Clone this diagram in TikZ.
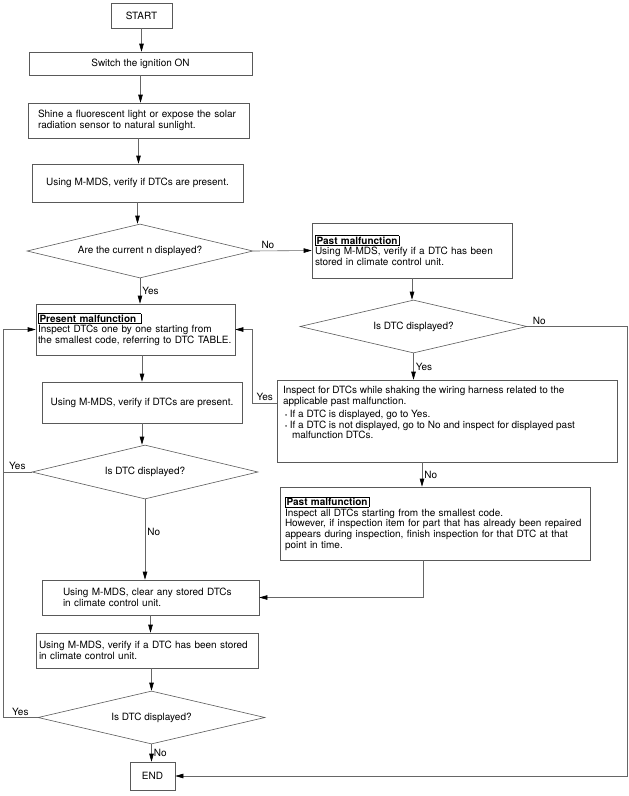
\documentclass[tikz,border=0pt]{standalone}
\usepackage{fontspec}
\setmainfont{TeX Gyre Heros}
\usetikzlibrary{arrows.meta,shapes.geometric,positioning,calc}
\setlength{\fboxsep}{1pt}
\setlength{\fboxrule}{0.5pt}

\begin{document}
\begin{tikzpicture}[
  x=1pt, y=-1pt,
  every node/.style={font=\fontsize{10}{10.6}\selectfont},
  box/.style={draw=black!65, line width=0.6pt, inner sep=3pt, align=center},
  pbox/.style={box, align=left},
  dia/.style={diamond, draw=black!65, line width=0.6pt, inner sep=0pt, aspect=4},
  line/.style={draw=black!60, line width=0.6pt},
  arr/.style={line, -{Triangle[length=8pt,width=4.5pt,color=black]}},
  lbl/.style={inner sep=2pt},
]
\useasboundingbox (0,0) rectangle (629,796);

% main column
\node[box, minimum width=61pt, minimum height=25pt] (start) at (141.5,15.5) {START};
\node[box, minimum width=223pt, minimum height=23pt] (ign) at (140.5,63.5) {Switch the ignition ON};
\node[pbox, text width=201pt, inner xsep=10pt, minimum height=35pt] (light) at (138.5,120.5)
  {Shine a fluorescent light or expose the solar\\radiation sensor to natural sunlight.};
\node[box, minimum width=211pt, minimum height=38pt] (chk) at (137.5,183) {Using M-MDS, verify if DTCs are present.};
\node[dia, minimum width=226pt, minimum height=54pt] (q1) at (140,251) {Are the current n displayed?};
\node[pbox, text width=195pt, inner xsep=2pt, minimum height=51pt] (pres) at (135.5,329.5)
  {\fbox{\textbf{Present malfunction\ }}\\Inspect DTCs one by one starting from\\the smallest code, referring to DTC TABLE.};
\node[box, minimum width=200pt, minimum height=41pt] (chk2) at (142,402.5) {Using M-MDS, verify if DTCs are present.};
\node[dia, minimum width=226pt, minimum height=54pt] (q2) at (145,472) {Is DTC displayed?};
\node[pbox, text width=175pt, inner xsep=21pt, minimum height=35pt] (clr) at (150.5,597.5)
  {Using M-MDS, clear any stored DTCs\\in climate control unit.};
\node[pbox, text width=216pt, inner xsep=3pt, minimum height=35pt] (chk3) at (147,650.5)
  {Using M-MDS, verify if a DTC has been stored\\in climate control unit.};
\node[dia, minimum width=227pt, minimum height=53pt] (q3) at (151.5,717.5) {Is DTC displayed?};
\node[box, minimum width=45pt, minimum height=28pt] (end) at (152.5,776) {END};

% right column
\node[pbox, text width=194pt, inner xsep=3pt, minimum height=55pt] (past) at (412,250.5)
  {\fbox{\textbf{Past malfunction}}\\Using M-MDS, verify if a DTC has been\\stored in climate control unit.};
\node[dia, minimum width=227pt, minimum height=53pt] (q4) at (413.5,326.5) {Is DTC displayed?};
\node[box, inner xsep=6pt, inner ysep=6pt] (shake) at (447,421)
  {\parbox[c][70pt][t]{328pt}{Inspect for DTCs while shaking the wiring harness related to the\\
  applicable past malfunction.\\[3pt]
  \hspace*{2pt}{\fontsize{6}{6}\selectfont\textbullet}\ If a DTC is displayed, go to Yes.\\
  \hspace*{2pt}{\fontsize{6}{6}\selectfont\textbullet}\ If a DTC is not displayed, go to No and inspect for displayed past\\
  \hspace*{9pt}malfunction DTCs.}};
\node[pbox, text width=300pt, inner xsep=5pt, minimum height=73pt] (repair) at (435,523.5)
  {\fbox{\textbf{Past malfunction}}\\Inspect all DTCs starting from the smallest code.\\
  However, if inspection item for part that has already been repaired\\
  appears during inspection, finish inspection for that DTC at that\\point in time.};

\coordinate (loop) at (3,472);

% connectors
\draw[arr] (start.south) -- (start.south |- ign.north);
\draw[arr] (ign.south) -- (ign.south |- light.north);
\draw[arr] (light.south) -- (light.south |- chk.north);
\draw[arr] (chk.south) -- (chk.south |- q1.north);
\draw[arr] (q1.east) -- node[lbl, above, pos=0.25]{No} (past.west);
\draw[arr] (q1.south) -- node[lbl, right]{Yes} (q1.south |- pres.north);
\draw[arr] (chk2.north |- pres.south) -- (chk2.north);
\draw[arr] (chk2.south) -- (chk2.south |- q2.north);
\draw[arr] (q2.west) -- node[lbl, above]{Yes} (loop) |- (pres.west);
\draw[arr] (q2.south) -- node[lbl, right, pos=0.4]{No} (q2.south |- clr.north);
\draw[arr] (clr.south) -- (clr.south |- chk3.north);
\draw[arr] (q3.north |- chk3.south) -- (q3.north);
\draw[line] (q3.west) -- node[lbl, above]{Yes} (q3.west -| loop) -- (loop);
\draw[arr] (q3.south) -- node[lbl, right]{No} (q3.south |- end.north);

\draw[arr] (past.south) -- (past.south |- q4.north);
\draw[arr] (q4.south) -- node[lbl, right]{Yes} (q4.south |- shake.north);
\draw[arr] (q4.east) -- node[lbl, above, pos=0.12]{No} ++(100,0) |- (end.east);
\draw[arr] ([yshift=18pt]shake.west) -- node[lbl, above]{Yes} ++(-24,0) |- (pres.east);
\draw[arr] ([xshift=-25pt]shake.south) -- node[lbl, right]{No} ([xshift=-25pt]shake.south |- repair.north);
\draw[arr] ([xshift=-12pt]repair.south) |- (clr.east);
\end{tikzpicture}
\end{document}
